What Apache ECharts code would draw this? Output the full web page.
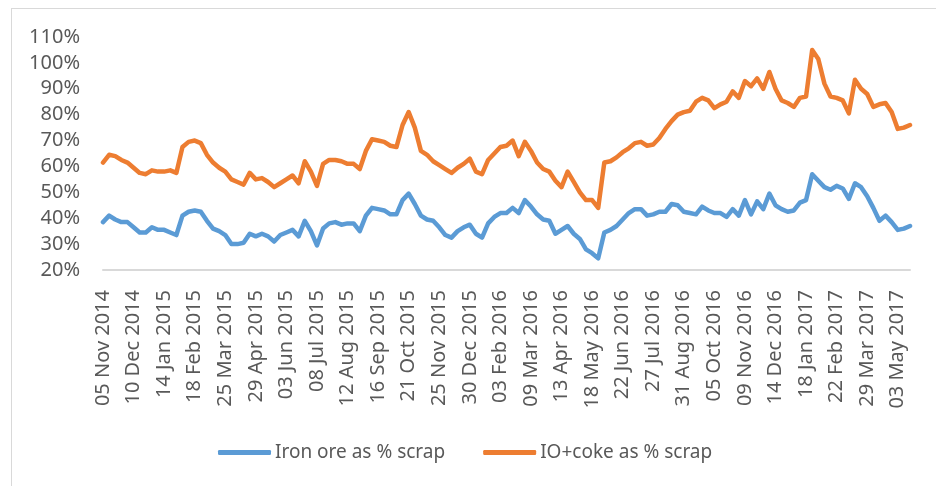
<!DOCTYPE html>
<html>
<head>
<meta charset="utf-8">
<script src="https://cdn.jsdelivr.net/npm/echarts@6/dist/echarts.min.js"></script>
<style>
  html, body { margin: 0; padding: 0; background: #fff; overflow: hidden; }
  #frame { position: absolute; left: 11px; top: 8px; width: 1000px; height: 600px; border-left: 1.5px solid #d9d9d9; border-top: 1.5px solid #d9d9d9; }
  #chart { position: absolute; left: 0; top: 0; width: 936px; height: 486px; }
</style>
</head>
<body>
<div id="frame"></div>
<div id="chart"></div>
<script>
// weekly dates, first one is 05 Nov 2014
const startDate = Date.UTC(2014, 10, 5)
const weekCount = 133
const monthNames = ['Jan', 'Feb', 'Mar', 'Apr', 'May', 'Jun', 'Jul', 'Aug', 'Sep', 'Oct', 'Nov', 'Dec']
const dates = []
for (let i = 0; i < weekCount; i++) {
  const d = new Date(startDate + i * 7 * 86400000)
  const dd = String(d.getUTCDate()).padStart(2, '0')
  dates.push(dd + ' ' + monthNames[d.getUTCMonth()] + ' ' + d.getUTCFullYear())
}

// values in %
const ironOre = [
  38.5, 41, 39.5, 38.5, 38.5, 36.5, 34.5, 34.5, 36.5, 35.5, 35.5, 34.5, 33.5, 41, 42.5, 43, 42.5, 39, 36, 35,
  33.5, 30, 30, 30.5, 34, 33, 34, 33, 31, 33.5, 34.5, 35.5, 33, 39, 35, 29.5, 36, 38, 38.5, 37.5,
  38, 38, 35, 41, 44, 43.5, 43, 41.5, 41.5, 47, 49.5, 45.5, 41, 39.5, 39, 36.5, 33.5, 32.5, 35, 36.5,
  37.5, 34, 32.5, 38, 40.5, 42, 42, 44, 42, 47, 44.5, 41.5, 39.5, 39, 34, 35.5, 37, 34, 32, 28,
  26.5, 24.5, 34.5, 35.5, 37, 39.5, 42, 43.5, 43.5, 41, 41.5, 42.5, 42.5, 45.5, 45, 42.5, 42, 41.5, 44.5, 43,
  42, 42, 40.5, 43.5, 41, 47, 41.5, 46.5, 43.5, 49.5, 45, 43.5, 42.5, 43, 46, 47, 57, 54.5, 52, 51,
  52.5, 51.5, 47.5, 53.5, 52, 48.5, 44, 39, 41, 38.5, 35.5, 36, 37
]
const ioCoke = [
  61.5, 64.5, 64, 62.5, 61.5, 59.5, 57.5, 57, 58.5, 58, 58, 58.5, 57.5, 67.5, 69.5, 70, 69, 64.5, 61.5, 59.5,
  58, 55, 54, 53, 57.5, 55, 55.5, 54, 52, 53.5, 55, 56.5, 53.5, 62, 58, 52.5, 61, 62.5, 62.5, 62,
  61, 61, 59, 66, 70.5, 70, 69.5, 68, 67.5, 76, 81, 75, 66, 64.5, 62, 60.5, 59, 57.5, 59.5, 61,
  63, 58, 57, 62.5, 65, 67.5, 68, 70, 64, 69.5, 66, 61.5, 59, 58, 54.5, 52, 58, 54, 50, 47,
  47, 44, 61.5, 62, 63.5, 65.5, 67, 69, 69.5, 68, 68.5, 71, 74.5, 77.5, 80, 81, 81.5, 85, 86.5, 85.5,
  82.5, 84, 85, 89, 86.5, 93, 91, 94, 90, 96.5, 90, 85.5, 84.5, 83, 86.5, 87, 105, 101.5, 92, 87,
  86.5, 85.5, 80.5, 93.5, 90, 88, 83, 84, 84.5, 81, 74.5, 75, 76
]

const chart = echarts.init(document.getElementById('chart'), null, { renderer: 'canvas' })
const textColor = '#595959'
const fontFamily = '"Noto Sans", sans-serif'

chart.setOption({
  animation: false,
  grid: {
    left: 103,
    right: 26,
    top: 37,
    bottom: 216
  },
  legend: {
    left: 213,
    top: 438,
    icon: 'roundRect',
    itemWidth: 53,
    itemHeight: 5,
    itemGap: 38,
    textStyle: {
      color: textColor,
      fontSize: 19,
      fontFamily: fontFamily,
      padding: [0, 0, 0, -1]
    },
    data: ['Iron ore as % scrap', 'IO+coke as % scrap']
  },
  xAxis: {
    type: 'category',
    data: dates,
    boundaryGap: false,
    axisLine: { lineStyle: { color: '#d9d9d9', width: 2 } },
    axisTick: { show: false },
    axisLabel: {
      interval: 4,
      rotate: 90,
      margin: 20,
      color: textColor,
      fontSize: 20,
      fontFamily: fontFamily
    },
    splitLine: { show: false }
  },
  yAxis: {
    type: 'value',
    min: 20,
    max: 110,
    interval: 10,
    axisLine: { show: false },
    axisTick: { show: false },
    splitLine: { show: false },
    axisLabel: {
      formatter: '{value}%',
      margin: 23,
      color: textColor,
      fontSize: 20,
      fontFamily: fontFamily
    }
  },
  series: [
    {
      name: 'Iron ore as % scrap',
      type: 'line',
      data: ironOre,
      showSymbol: false,
      symbol: 'none',
      lineStyle: { color: '#5B9BD5', width: 4.5, cap: 'round', join: 'round' },
      itemStyle: { color: '#5B9BD5' }
    },
    {
      name: 'IO+coke as % scrap',
      type: 'line',
      data: ioCoke,
      showSymbol: false,
      symbol: 'none',
      lineStyle: { color: '#ED7D31', width: 4.5, cap: 'round', join: 'round' },
      itemStyle: { color: '#ED7D31' }
    }
  ]
})

window.addEventListener('resize', function () {
  chart.resize()
})
</script>
</body>
</html>
